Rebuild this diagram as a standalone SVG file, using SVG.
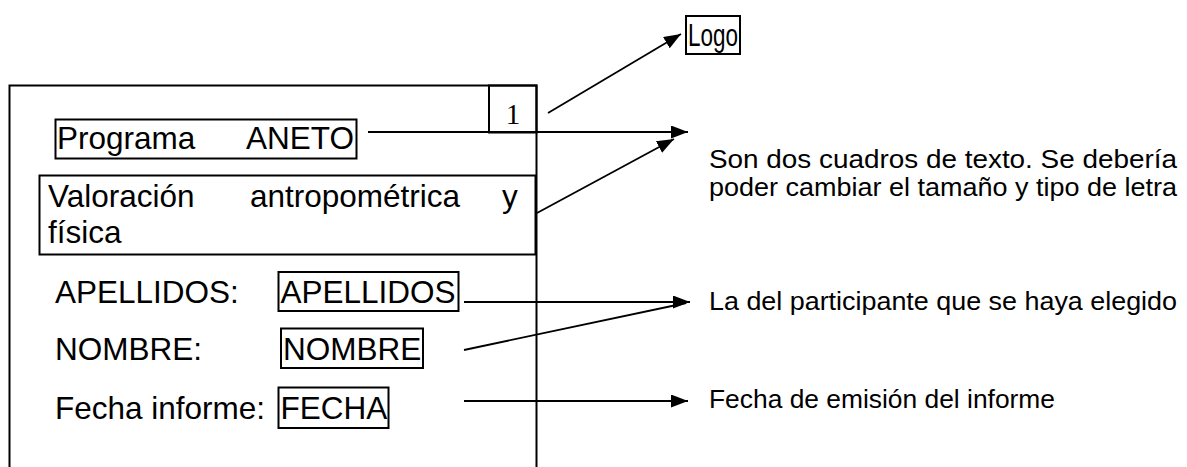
<svg xmlns="http://www.w3.org/2000/svg" width="1187" height="467" viewBox="0 0 1187 467">
<style>
.t{font-family:"Liberation Sans",Arial,sans-serif;font-size:31.5px;fill:#000}
.r{font-family:"Liberation Sans",Arial,sans-serif;font-size:25px;fill:#000}
.box{fill:none;stroke:#000;stroke-width:2}
.ln{fill:none;stroke:#000;stroke-width:1.8}
</style>
<defs>
<marker id="ah" markerWidth="17" markerHeight="13" refX="17" refY="6.5" orient="auto" markerUnits="userSpaceOnUse"><path d="M0,0 L17,6.5 L0,13 z" fill="#000"/></marker>
</defs>
<rect width="1187" height="467" fill="#fff"/>
<g id="frame">
<path class="box" d="M9.5,470 V85.5 H536.5 V470"/>
</g>
<g id="num">
<rect class="box" x="489" y="85.5" width="47.5" height="47"/>
<text x="513" y="124" font-family="Liberation Serif,serif" font-size="29" text-anchor="middle">1</text>
</g>
<g id="programa">
<rect class="box" x="55.5" y="119.5" width="301" height="39"/>
<text class="t" x="57" y="149">Programa</text>
<text class="t" x="246" y="149">ANETO</text>
</g>
<g id="valoracion">
<rect class="box" x="39.5" y="175.5" width="496" height="79" stroke-width="2.5"/>
<text class="t" x="48" y="207">Valoración</text>
<text class="t" x="250" y="207">antropométrica</text>
<text class="t" x="502" y="207">y</text>
<text class="t" x="48" y="243">física</text>
</g>
<g id="apellidos">
<text class="t" x="55" y="303">APELLIDOS:</text>
<rect class="box" x="278.5" y="272" width="180" height="39"/>
<text class="t" x="280.5" y="303">APELLIDOS</text>
</g>
<g id="nombre">
<text class="t" x="55" y="360">NOMBRE:</text>
<rect class="box" x="281" y="328.5" width="142" height="39.5"/>
<text class="t" x="283" y="360">NOMBRE</text>
</g>
<g id="fecha">
<text class="t" x="55" y="419">Fecha informe:</text>
<rect class="box" x="278.5" y="387.5" width="110" height="40.5"/>
<text class="t" x="280.5" y="419">FECHA</text>
</g>
<g id="logo">
<rect class="box" x="686" y="16" width="54" height="38"/>
<text class="t" x="688" y="46" font-size="31" textLength="50" lengthAdjust="spacingAndGlyphs">Logo</text>
</g>
<g id="note1">
<text class="r" x="709" y="168" textLength="468" lengthAdjust="spacingAndGlyphs">Son dos cuadros de texto. Se debería</text>
<text class="r" x="709" y="196" textLength="468" lengthAdjust="spacingAndGlyphs">poder cambiar el tamaño y tipo de letra</text>
</g>
<g id="note2">
<text class="r" x="709" y="310" textLength="468" lengthAdjust="spacingAndGlyphs">La del participante que se haya elegido</text>
</g>
<g id="note3">
<text class="r" x="709" y="408" textLength="346" lengthAdjust="spacingAndGlyphs">Fecha de emisión del informe</text>
</g>
<g id="connectors">
<line class="ln" x1="548" y1="113" x2="681" y2="34" marker-end="url(#ah)"/>
<line class="ln" x1="368" y1="132" x2="688" y2="132" marker-end="url(#ah)"/>
<line class="ln" x1="537" y1="213" x2="674" y2="139" marker-end="url(#ah)"/>
<line class="ln" x1="464" y1="302" x2="690" y2="302" marker-end="url(#ah)"/>
<line class="ln" x1="464" y1="350" x2="686" y2="303"/>
<line class="ln" x1="464" y1="401" x2="688" y2="401" marker-end="url(#ah)"/>
</g>
</svg>
